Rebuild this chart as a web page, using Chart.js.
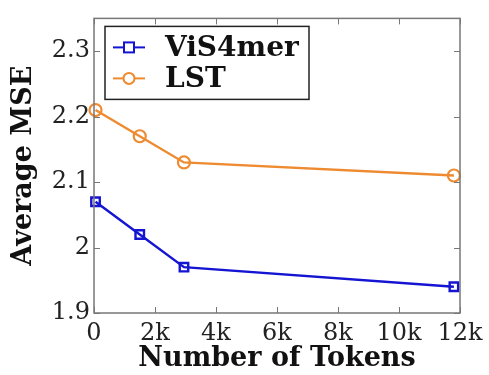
<!DOCTYPE html>
<html>
<head>
<meta charset="utf-8">
<script src="https://cdn.jsdelivr.net/npm/chart.js@4"></script>
<style>
	html, body { margin: 0; padding: 0; background: #fff; }
	#wrap { width: 489px; height: 375px; }
</style>
</head>
<body>
<div id="wrap"><canvas id="mseChart" width="489" height="375"></canvas></div>
<script>
var tokens = [50, 1500, 2950, 11800];
var vis4merMse = [2.07, 2.02, 1.97, 1.94];
var lstMse = [2.21, 2.17, 2.13, 2.11];
var seriesNames = ['ViS4mer', 'LST'];
var xTicks = [0, 2000, 4000, 6000, 8000, 10000, 12000];
var yTicks = [1.9, 2.0, 2.1, 2.2, 2.3];

var blue = '#1414d2';
var orange = '#ee8a30';
var axisGray = '#777';

function points(ys) {
	return tokens.map(function (t, i) { return { x: t, y: ys[i] }; });
}

// inward tick marks on all four sides + frame
var frameTicks = {
	id: 'frameTicks',
	afterDraw: function (chart) {
		var ctx = chart.ctx, a = chart.chartArea;
		var xs = chart.scales.x, ys = chart.scales.y;
		ctx.save();
		ctx.strokeStyle = axisGray;
		ctx.lineWidth = 1;
		xTicks.forEach(function (v) {
			var px = Math.round(xs.getPixelForValue(v)) + 0.5;
			ctx.beginPath();
			ctx.moveTo(px, a.bottom); ctx.lineTo(px, a.bottom - 6);
			ctx.moveTo(px, a.top); ctx.lineTo(px, a.top + 6);
			ctx.stroke();
		});
		yTicks.forEach(function (v) {
			var py = Math.round(ys.getPixelForValue(v)) + 0.5;
			ctx.beginPath();
			ctx.moveTo(a.left, py); ctx.lineTo(a.left + 6, py);
			ctx.moveTo(a.right, py); ctx.lineTo(a.right - 6, py);
			ctx.stroke();
		});
		ctx.lineWidth = 1.5;
		ctx.strokeRect(a.left, a.top, a.right - a.left, a.bottom - a.top);
		ctx.restore();
	}
};

// boxed legend in upper left of plot
var boxLegend = {
	id: 'boxLegend',
	afterDraw: function (chart) {
		var ctx = chart.ctx, a = chart.chartArea;
		var bx = a.left + 11, by = a.top + 8, bw = 204, bh = 73;
		ctx.save();
		ctx.fillStyle = '#fff';
		ctx.fillRect(bx, by, bw, bh);
		ctx.strokeStyle = '#222';
		ctx.lineWidth = 1.5;
		ctx.strokeRect(bx, by, bw, bh);
		chart.data.datasets.forEach(function (ds, i) {
			var cy = by + 21 + i * 31;
			ctx.strokeStyle = ds.borderColor;
			ctx.lineWidth = 2;
			ctx.beginPath();
			ctx.moveTo(bx + 8, cy); ctx.lineTo(bx + 40, cy);
			ctx.stroke();
			ctx.fillStyle = '#fff';
			if (ds.pointStyle === 'rect') {
				ctx.fillRect(bx + 19, cy - 5, 10, 10);
				ctx.strokeRect(bx + 19, cy - 5, 10, 10);
			} else {
				ctx.beginPath();
				ctx.arc(bx + 24, cy, 5.5, 0, Math.PI * 2);
				ctx.fill();
				ctx.stroke();
			}
			ctx.fillStyle = '#111';
			ctx.font = 'bold 28px "DejaVu Serif"';
			ctx.textBaseline = 'middle';
			ctx.fillText(ds.label, bx + 60, cy + 1);
		});
		ctx.restore();
	}
};

new Chart(document.getElementById('mseChart'), {
	type: 'line',
	data: {
		datasets: [{
			label: seriesNames[0],
			data: points(vis4merMse),
			borderColor: blue,
			backgroundColor: 'transparent',
			borderWidth: 2.4,
			pointStyle: 'rect',
			pointRadius: 6,
			pointBorderWidth: 2.4,
			pointBackgroundColor: 'transparent'
		}, {
			label: seriesNames[1],
			data: points(lstMse),
			borderColor: orange,
			backgroundColor: 'transparent',
			borderWidth: 2.4,
			pointStyle: 'circle',
			pointRadius: 6,
			pointBorderWidth: 2.2,
			pointBackgroundColor: 'transparent'
		}]
	},
	options: {
		responsive: false,
		animation: false,
		clip: false,
		layout: { padding: { top: 10, right: 29, left: 0, bottom: 0 } },
		plugins: {
			legend: { display: false },
			tooltip: { enabled: false }
		},
		scales: {
			x: {
				type: 'linear',
				min: 0,
				max: 12000,
				afterFit: function (s) { s.height = 62; },
				afterBuildTicks: function (s) { s.ticks = xTicks.map(function (v) { return { value: v }; }); },
				grid: { display: false, drawTicks: false },
				border: { display: false },
				ticks: {
					color: '#222',
					padding: 6,
					font: { family: 'DejaVu Serif', size: 24 },
					callback: function (v) { return v === 0 ? '0' : (v / 1000) + 'k'; }
				},
				title: {
					display: true,
					text: 'Number of Tokens',
					color: '#111',
					padding: { top: -4, bottom: 0 },
					font: { family: 'DejaVu Serif', size: 27, weight: 'bold' }
				}
			},
			y: {
				min: 1.9,
				max: 2.35,
				afterFit: function (s) { s.width = 94; },
				afterBuildTicks: function (s) { s.ticks = yTicks.map(function (v) { return { value: v }; }); },
				grid: { display: false, drawTicks: false },
				border: { display: false },
				ticks: {
					color: '#222',
					padding: 4,
					font: { family: 'DejaVu Serif', size: 24 },
					callback: function (v) { return v === 2 ? '2' : v.toFixed(1); }
				},
				title: {
					display: true,
					text: 'Average MSE',
					color: '#111',
					padding: { top: 8, bottom: 0 },
					font: { family: 'DejaVu Serif', size: 27, weight: 'bold' }
				}
			}
		}
	},
	plugins: [frameTicks, boxLegend]
});
</script>
</body>
</html>
